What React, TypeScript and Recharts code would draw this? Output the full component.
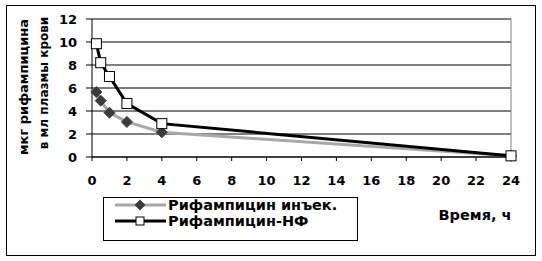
import React from "react";
import { LineChart, Line, XAxis, YAxis, CartesianGrid, ReferenceLine } from "recharts";

const hours = [0.25, 0.5, 1, 2, 4, 24];
const injection = [5.65, 4.9, 3.85, 3.05, 2.15, 0.1];
const nf = [9.85, 8.2, 7.0, 4.65, 2.9, 0.1];
const xTicks = [0, 2, 4, 6, 8, 10, 12, 14, 16, 18, 20, 22, 24];
const yTicks = [0, 2, 4, 6, 8, 10, 12];
const seriesNames = ["Рифампицин инъек.", "Рифампицин-НФ"];
const yLabelLines = ["мкг рифампицина", "в мл плазмы крови"];
const xLabel = "Время, ч";

const data = hours.map((h, i) => ({ h, inj: injection[i], nf: nf[i] }));

const FONT = "'DejaVu Sans', sans-serif";

const Diamond = (props: any) => {
  const { cx, cy } = props;
  if (cx == null || cy == null) return null;
  const r = 5.5;
  return (
    <polygon
      points={`${cx},${cy - r} ${cx + r},${cy} ${cx},${cy + r} ${cx - r},${cy}`}
      fill="#3c3c3c"
      stroke="#3c3c3c"
      strokeWidth={1}
    />
  );
};

const Square = (props: any) => {
  const { cx, cy } = props;
  if (cx == null || cy == null) return null;
  return <rect x={cx - 5} y={cy - 5} width={10} height={10} fill="#fff" stroke="#000" strokeWidth={1} />;
};

export default function App() {
  return (
    <div style={{ position: "absolute", left: 0, top: 0, width: 542, height: 261, background: "#fff", fontFamily: FONT }}>
      <div style={{ position: "absolute", left: 6, top: 5, width: 530, height: 251, border: "1px solid #000", boxSizing: "border-box" }} />
      <LineChart
        width={542}
        height={261}
        data={data}
        margin={{ top: 19, right: 31, bottom: 0, left: 0 }}
        style={{ position: "absolute", left: 0, top: 0 }}
      >
        <CartesianGrid vertical={false} stroke="#000" strokeWidth={1} />
        <XAxis
          dataKey="h"
          type="number"
          domain={[0, 24]}
          ticks={xTicks}
          interval={0}
          height={104}
          axisLine={{ stroke: "#000" }}
          tickLine={{ stroke: "#000" }}
          tickSize={4}
          tickMargin={15}
          tick={{ fill: "#000", fontSize: 13, fontWeight: "bold", fontFamily: FONT }}
        />
        <YAxis
          type="number"
          domain={[0, 12]}
          ticks={yTicks}
          interval={0}
          width={92}
          axisLine={{ stroke: "#000" }}
          tickLine={{ stroke: "#000" }}
          tickSize={6}
          tickMargin={9}
          tick={{ fill: "#000", fontSize: 13, fontWeight: "bold", fontFamily: FONT }}
        />
        <ReferenceLine y={12} stroke="#808080" strokeWidth={1} />
        <ReferenceLine x={24} stroke="#808080" strokeWidth={1} />
        <Line
          dataKey="inj"
          type="linear"
          stroke="#a8a8a8"
          strokeWidth={3}
          dot={<Diamond />}
          activeDot={false}
          isAnimationActive={false}
        />
        <Line
          dataKey="nf"
          type="linear"
          stroke="#000"
          strokeWidth={3}
          dot={<Square />}
          activeDot={false}
          isAnimationActive={false}
        />
      </LineChart>
      <svg width={542} height={261} style={{ position: "absolute", left: 0, top: 0, pointerEvents: "none" }}>
        <text transform="translate(28,87) rotate(-90)" textAnchor="middle" fontSize={13} fontWeight="bold" fontFamily={FONT} fill="#000">
          {yLabelLines[0]}
        </text>
        <text transform="translate(48,83) rotate(-90)" textAnchor="middle" fontSize={12} fontWeight="bold" fontFamily={FONT} fill="#000">
          {yLabelLines[1]}
        </text>
        <text x={475} y={220} textAnchor="middle" fontSize={14.5} fontWeight="bold" fontFamily={FONT} fill="#000">
          {xLabel}
        </text>
        <rect x={103.5} y={197.5} width={254} height={43} fill="#fff" stroke="#000" strokeWidth={1} />
        <line x1={115} y1={205} x2={166} y2={205} stroke="#a8a8a8" strokeWidth={3} />
        <polygon points="140,199.5 145.5,205 140,210.5 134.5,205" fill="#3c3c3c" />
        <text x={168} y={210} fontSize={14.5} fontWeight="bold" fontFamily={FONT} fill="#000">
          {seriesNames[0]}
        </text>
        <line x1={115} y1={221} x2={166} y2={221} stroke="#000" strokeWidth={3} />
        <rect x={136} y={217} width={8} height={8} fill="#fff" stroke="#000" strokeWidth={1} />
        <text x={168} y={226} fontSize={14.5} fontWeight="bold" fontFamily={FONT} fill="#000">
          {seriesNames[1]}
        </text>
      </svg>
    </div>
  );
}
